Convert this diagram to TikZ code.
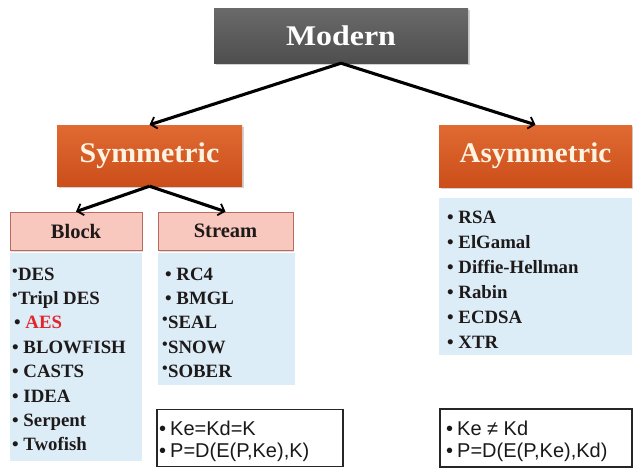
\documentclass[tikz,border=0pt]{standalone}
\usepackage{graphicx}
\usepackage{fontspec}
\setmainfont{Liberation Serif}
\newfontfamily\arialfont{Liberation Sans}
\usetikzlibrary{arrows.meta,shadows}

\definecolor{modtop}{HTML}{6A6A6A}
\definecolor{modbot}{HTML}{4E4E4E}
\definecolor{ortop}{HTML}{E06A32}
\definecolor{orbot}{HTML}{CC4E1A}
\definecolor{cream}{HTML}{FDF3E3}
\definecolor{pinkfill}{HTML}{F8C7BD}
\definecolor{pinkedge}{HTML}{B86A5E}
\definecolor{listblue}{HTML}{DCEDF8}
\definecolor{itemtext}{HTML}{1E1A1A}
\definecolor{aesred}{HTML}{E3262A}

% small raised bullet and ordinary bullet used in the item lists
\newcommand\smalldot{\raisebox{4pt}{\fontsize{16}{16}\selectfont •}\hspace{0.3pt}}
\newcommand\bigdot{•\hspace{0.25em}}

\begin{document}
\begin{tikzpicture}[x=1pt,y=-1pt,
  catbox/.style={rectangle, inner sep=0pt, text=cream,
    font=\fontsize{28.5}{28.5}\selectfont\bfseries,
    drop shadow={opacity=0.35, shadow xshift=1.5pt, shadow yshift=-2pt}},
  topbox/.style={catbox, top color=modtop, bottom color=modbot, text=white},
  orbox/.style={catbox, top color=ortop, bottom color=orbot},
  headbox/.style={rectangle, inner sep=0pt, fill=pinkfill, draw=pinkedge,
    line width=0.7pt, text=itemtext, font=\fontsize{20.5}{20.5}\selectfont\bfseries,
    drop shadow={opacity=0.25, shadow xshift=1pt, shadow yshift=-1.5pt}},
  listbox/.style={rectangle, inner sep=0pt, fill=listblue, draw=none},
  formbox/.style={rectangle, inner sep=0pt, fill=white, draw=black!85, line width=1.1pt},
  item/.style={anchor=base west, inner sep=0pt, text=itemtext,
    font=\fontsize{18.8}{18.8}\selectfont\bfseries},
  fitem/.style={anchor=base west, inner sep=0pt, text=black!90,
    font=\arialfont\fontsize{20}{20}\selectfont},
  conn/.style={line width=3.1pt, draw=black,
    -{Straight Barb[length=5.5pt,width=12pt,line width=1.8pt]}}]

\useasboundingbox (0,0) rectangle (633,469);
\fill[white] (0,0) rectangle (633,469);

% category boxes
\node[topbox, minimum width=254pt, minimum height=55pt] (mod) at (341,35.5)
  {\scalebox{1.12}[1]{Modern}};
\node[orbox, minimum width=185pt, minimum height=61pt] (sym) at (149.5,155.5)
  {\scalebox{1.05}[1]{Symmetric}};
\node[orbox, minimum width=193pt, minimum height=62pt] (asym) at (535.5,156)
  {\scalebox{1.02}[1]{Asymmetric}};

% sub-category headers
\node[headbox, minimum width=132pt, minimum height=38pt] (blk) at (76,231) {Block};
\node[headbox, minimum width=135pt, minimum height=38pt] (str) at (225.5,231) {Stream};

% list backgrounds
\node[listbox, minimum width=132pt, minimum height=208pt] (blklist) at (76,357) {};
\node[listbox, minimum width=137pt, minimum height=132pt] (strlist) at (226.5,319) {};
\node[listbox, minimum width=193pt, minimum height=157pt] (asymlist) at (535.5,276.5) {};

% key relation boxes
\node[formbox, minimum width=186pt, minimum height=57pt] (symkey) at (250,438) {};
\node[formbox, minimum width=192pt, minimum height=58pt] (asymkey) at (536,438) {};

% connectors
\draw[conn] (mod.south) -- (sym.north);
\draw[conn] (mod.south) -- (asym.north);
\draw[conn] (sym.south) -- (blk.north);
\draw[conn] (sym.south) -- (str.north);

% block ciphers
\node[item] (b1) at (12,280) {\smalldot DES};
\node[item] (b2) at (12,304.4) {\smalldot Tripl DES};
\node[item] (b3) at (14,328.8) {\bigdot\textcolor{aesred}{AES}};
\node[item] (b4) at (12,353.2) {\bigdot BLOWFISH};
\node[item] (b5) at (12,377.6) {\bigdot CASTS};
\node[item] (b6) at (12,402) {\bigdot IDEA};
\node[item] (b7) at (12,426.4) {\bigdot Serpent};
\node[item] (b8) at (12,450.8) {\bigdot Twofish};

% stream ciphers
\node[item] (s1) at (165,280) {\bigdot RC4};
\node[item] (s2) at (165,304.4) {\bigdot BMGL};
\node[item] (s3) at (162,328.8) {\smalldot SEAL};
\node[item] (s4) at (162,353.2) {\smalldot SNOW};
\node[item] (s5) at (162,377.6) {\smalldot SOBER};

% public-key schemes
\node[item] (a1) at (447,223) {\bigdot RSA};
\node[item] (a2) at (447,248) {\bigdot ElGamal};
\node[item] (a3) at (447,273) {\bigdot Diffie-Hellman};
\node[item] (a4) at (447,298) {\bigdot Rabin};
\node[item] (a5) at (447,323) {\bigdot ECDSA};
\node[item] (a6) at (447,348) {\bigdot XTR};

% key relations
\node[fitem] (k1) at (159,435) {•\hspace{0.2em}Ke=Kd=K};
\node[fitem] (k2) at (159,457) {•\hspace{0.2em}P=D(E(P,Ke),K)};
\node[fitem] (k3) at (446,435) {•\hspace{0.2em}Ke ≠ Kd};
\node[fitem] (k4) at (446,457) {•\hspace{0.2em}P=D(E(P,Ke),Kd)};
\end{tikzpicture}
\end{document}
